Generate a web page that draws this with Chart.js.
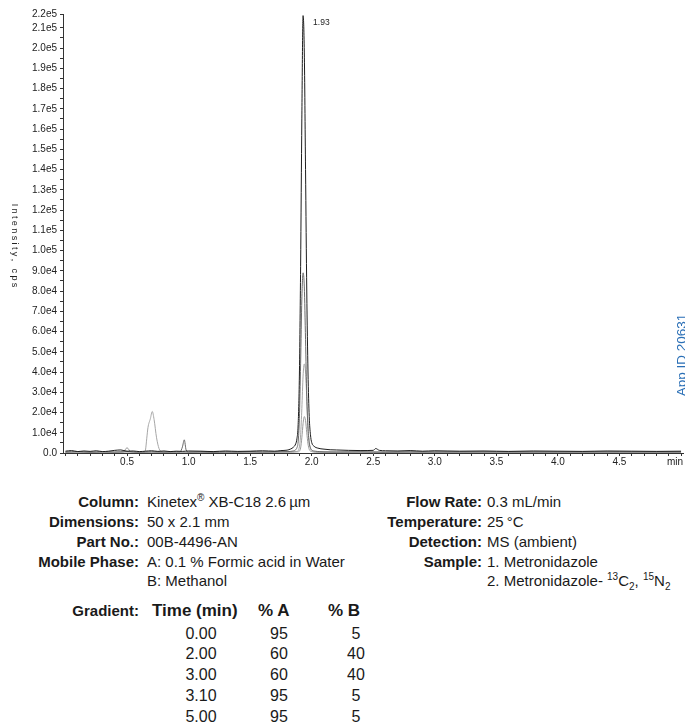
<!DOCTYPE html>
<html>
<head>
<meta charset="utf-8">
<script src="https://cdn.jsdelivr.net/npm/chart.js@4.4.1/dist/chart.umd.min.js"></script>
<style>
html,body{margin:0;padding:0;background:#fff;}
body{width:685px;height:723px;position:relative;overflow:hidden;font-family:"Liberation Sans",Arial,sans-serif;color:#1a1a1a;}
#wrap{position:absolute;left:0;top:0;width:685px;height:480px;}
.t{position:absolute;font-size:15px;line-height:20px;white-space:nowrap;}
.lab{font-weight:bold;text-align:right;left:0;}
.l1{width:139px;}
.l2{width:482px;}
.v1{left:147px;}
.v2{left:487px;}
sup,sub{font-size:10px;line-height:0;}
.h{position:absolute;font-weight:bold;font-size:17px;line-height:21px;white-space:nowrap;}
.c{position:absolute;font-size:16px;line-height:21px;white-space:nowrap;text-align:center;width:60px;}
</style>
</head>
<body>
<div id="wrap"><canvas id="c" width="685" height="480"></canvas></div>

<div class="t lab l1" style="top:492px">Column:</div>
<div class="t v1" style="top:492px">Kinetex<sup>®</sup> XB-C18 2.6&#8201;µm</div>
<div class="t lab l1" style="top:512px">Dimensions:</div>
<div class="t v1" style="top:512px">50 x 2.1 mm</div>
<div class="t lab l1" style="top:532px">Part No.:</div>
<div class="t v1" style="top:532px">00B-4496-AN</div>
<div class="t lab l1" style="top:552px">Mobile Phase:</div>
<div class="t v1" style="top:552px">A: 0.1 % Formic acid in Water</div>
<div class="t v1" style="top:571px">B: Methanol</div>

<div class="t lab l2" style="top:492px">Flow Rate:</div>
<div class="t v2" style="top:492px">0.3 mL/min</div>
<div class="t lab l2" style="top:512px">Temperature:</div>
<div class="t v2" style="top:512px">25&#8201;°C</div>
<div class="t lab l2" style="top:532px">Detection:</div>
<div class="t v2" style="top:532px">MS (ambient)</div>
<div class="t lab l2" style="top:552px">Sample:</div>
<div class="t v2" style="top:552px">1. Metronidazole</div>
<div class="t v2" style="top:571px">2. Metronidazole- <sup>13</sup>C<sub>2</sub>, <sup>15</sup>N<sub>2</sub></div>

<div class="t lab l1" style="top:601px">Gradient:</div>
<div class="h" style="left:152px;top:600px">Time (min)</div>
<div class="h" style="left:258px;top:600px">% A</div>
<div class="h" style="left:328px;top:600px">% B</div>
<div id="grad"></div>

<script>
// ---- chromatogram traces (time in min, intensity in cps) ----
const t1 = [0.00,0.05,0.10,0.15,0.20,0.25,0.30,0.35,0.40,0.45,0.50,0.55,0.60,0.65,0.70,0.75,0.80,0.85,0.90,0.95,1.00,1.10,1.20,1.30,1.40,1.50,1.60,1.70,1.75,1.80,1.83,1.85,1.87,1.88,1.89,1.90,1.91,1.92,1.93,1.94,1.95,1.96,1.97,1.98,1.99,2.00,2.02,2.05,2.10,2.15,2.20,2.30,2.40,2.50,2.52,2.55,2.60,2.70,2.80,2.90,3.00,3.20,3.40,3.60,3.80,4.00,4.20,4.40,4.60,4.80,5.00];
const y1 = [900,1200,700,1000,800,1100,700,900,1300,1500,900,1000,700,900,1100,800,1000,700,900,800,1000,900,700,1000,800,900,1100,900,1200,1400,2000,2800,4500,7000,14000,38000,92000,165000,216000,198000,140000,80000,40000,18000,9000,5200,3300,2400,1900,1600,1500,1300,1200,1300,2200,1300,1100,1000,1200,900,1100,900,1000,800,1000,900,800,1000,900,800,900];

const t2 = [0.00,0.10,0.20,0.30,0.40,0.50,0.60,0.70,0.80,0.90,0.93,0.95,0.965,0.98,1.00,1.10,1.20,1.30,1.40,1.50,1.60,1.70,1.80,1.85,1.87,1.88,1.89,1.90,1.91,1.92,1.93,1.94,1.95,1.96,1.97,1.98,1.99,2.00,2.03,2.06,2.10,2.20,2.40,2.60,2.80,3.00,3.50,4.00,4.50,5.00];
const y2 = [500,700,400,600,500,700,400,600,500,600,500,3000,6500,1500,500,600,400,600,500,700,500,600,700,1000,1600,2600,5500,17000,44000,76000,89000,82000,56000,28000,12000,5000,2500,1500,900,700,600,500,600,400,600,500,600,500,600,500];

const t3 = [0.00,0.10,0.20,0.30,0.40,0.50,0.60,0.64,0.65,0.66,0.67,0.69,0.705,0.72,0.74,0.76,0.78,0.80,0.90,1.00,1.10,1.20,1.30,1.40,1.50,1.60,1.70,1.80,1.88,1.90,1.91,1.92,1.93,1.94,1.95,1.96,1.97,1.98,1.99,2.00,2.02,2.05,2.10,2.30,2.60,3.00,3.50,4.00,4.50,5.00];
const y3 = [400,500,300,500,400,500,400,500,1500,7000,12500,17000,20500,16500,7500,2200,700,400,500,400,500,300,500,400,500,400,500,500,800,3000,9000,22000,38000,44000,40000,27000,13000,5500,2200,1200,700,500,400,500,400,500,400,500,400,500];

const t4 = [0.00,0.10,0.20,0.30,0.40,0.47,0.50,0.53,0.60,0.70,0.80,0.90,1.00,1.20,1.40,1.60,1.80,1.89,1.91,1.92,1.93,1.94,1.95,1.96,1.97,1.98,2.00,2.03,2.10,2.40,2.80,3.20,3.60,4.00,4.50,5.00];
const y4 = [300,400,300,400,300,500,2600,600,300,400,300,400,300,400,300,400,400,600,2500,7500,14500,18000,16000,10000,4500,1800,700,400,300,400,300,400,300,400,300,400];

// ---- axis ticks / labels ----
const xLabelValues = [0.5,1.0,1.5,2.0,2.5,3.0,3.5,4.0,4.5];
const xLabelTexts  = ['0.5','1.0','1.5','2.0','2.5','3.0','3.5','4.0','4.5'];
const xUnitLabel = 'min';
const yMax = 216800;
const yLabelValues = [0,10000,20000,30000,40000,50000,60000,70000,80000,90000,100000,110000,120000,130000,140000,150000,160000,170000,180000,190000,200000,210000,216800];
const yLabelTexts  = ['0.0','1.0e4','2.0e4','3.0e4','4.0e4','5.0e4','6.0e4','7.0e4','8.0e4','9.0e4','1.0e5','1.1e5','1.2e5','1.3e5','1.4e5','1.5e5','1.6e5','1.7e5','1.8e5','1.9e5','2.0e5','2.1e5','2.2e5'];
const yAxisTitle = 'Intensity, cps';
const peakTime = 1.93, peakHeight = 216000, peakLabel = '1.93';
const appId = 'App ID 20631';

// ---- gradient table ----
const gradTime = ['0.00','2.00','3.00','3.10','5.00'];
const gradA = ['95','60','60','95','95'];
const gradB = ['5','40','40','5','5'];

const g = document.getElementById('grad');
gradTime.forEach((tt,i)=>{
  const top = 622.5 + i*20.8;
  [[tt,171],[gradA[i],249],[gradB[i],326]].forEach(([txt,left])=>{
    const d=document.createElement('div'); d.className='c';
    d.style.left=left+'px'; d.style.top=top+'px'; d.textContent=txt; g.appendChild(d);
  });
});

const FONT = '"Liberation Sans", Arial, sans-serif';
const pts = (t,y)=>t.map((v,i)=>({x:v,y:y[i]}));

const xTickList=[]; for(let i=0;i<=50;i++) xTickList.push(i/10);
const yTickList=[]; for(let i=0;i<=42;i++) yTickList.push(i*5000); yTickList.push(yMax);

const findLabel=(vals,texts,v,eps)=>{const i=vals.findIndex(a=>Math.abs(a-v)<eps);return i>=0?texts[i]:'';};

const annot = {
  id:'annot',
  afterDraw(chart){
    const {ctx, scales:{x,y}} = chart;
    ctx.save();
    ctx.fillStyle='#222';
    ctx.font='8.5px '+FONT; ctx.textAlign='left'; ctx.textBaseline='middle';
    ctx.fillText(peakLabel, x.getPixelForValue(peakTime)+10, y.getPixelForValue(peakHeight)+7);
    ctx.font='10px '+FONT; ctx.textAlign='right'; ctx.textBaseline='middle';
    ctx.fillText(xUnitLabel, chart.width-2, x.top+9);
    // y title, letter-spaced, reading top to bottom
    ctx.save();
    ctx.font='9px '+FONT; ctx.textAlign='left'; ctx.textBaseline='alphabetic';
    const sp=2.4;
    const ws=[...yAxisTitle].map(ch=>ctx.measureText(ch).width);
    const total=ws.reduce((a,b)=>a+b,0)+sp*(ws.length-1);
    ctx.translate(12,(y.top+y.bottom)/2+12); ctx.rotate(Math.PI/2);
    let cx=-total/2;
    [...yAxisTitle].forEach((ch,i)=>{ctx.fillText(ch,cx,0);cx+=ws[i]+sp;});
    ctx.restore();
    // App ID
    ctx.save();
    ctx.translate(686,355); ctx.rotate(-Math.PI/2);
    ctx.font='13.5px '+FONT; ctx.fillStyle='#2a6fb6'; ctx.textAlign='center'; ctx.textBaseline='alphabetic';
    ctx.fillText(appId,0,0);
    ctx.restore();
    ctx.restore();
  }
};

const ds = (label,t,y,color)=>({label,data:pts(t,y),borderColor:color,borderWidth:1,pointRadius:0,fill:false,cubicInterpolationMode:'monotone'});

new Chart(document.getElementById('c'),{
  type:'line',
  data:{datasets:[
    ds('Trace 1',t1,y1,'#1e1e1e'),
    ds('Trace 2',t2,y2,'#6a6a6a'),
    ds('Trace 3',t3,y3,'#a6a6a6'),
    ds('Trace 4',t4,y4,'#9a9a9a')
  ]},
  options:{
    responsive:false, devicePixelRatio:1, animation:false,
    layout:{padding:{top:14,right:1.5,left:0,bottom:0}},
    plugins:{legend:{display:false},tooltip:{enabled:false}},
    scales:{
      x:{type:'linear',min:-0.02,max:5.02,
        afterBuildTicks:s=>{s.ticks=xTickList.map(v=>({value:v}));},
        afterFit:s=>{s.height=27;},
        ticks:{autoSkip:false,maxRotation:0,minRotation:0,padding:0,color:'#222',font:{family:FONT,size:10},
          callback:v=>findLabel(xLabelValues,xLabelTexts,v,1e-6)},
        grid:{drawOnChartArea:false,drawTicks:true,tickLength:3,color:'#333'},
        border:{display:true,color:'#333',width:1}
      },
      y:{type:'linear',min:0,max:yMax,
        afterBuildTicks:s=>{s.ticks=yTickList.map(v=>({value:v}));},
        afterFit:s=>{s.width=63;},
        ticks:{autoSkip:false,padding:3,color:'#222',font:{family:FONT,size:10},
          callback:v=>findLabel(yLabelValues,yLabelTexts,v,1)},
        grid:{drawOnChartArea:false,drawTicks:true,tickLength:3,color:'#333'},
        border:{display:true,color:'#333',width:1}
      }
    }
  },
  plugins:[annot]
});
</script>
</body>
</html>
